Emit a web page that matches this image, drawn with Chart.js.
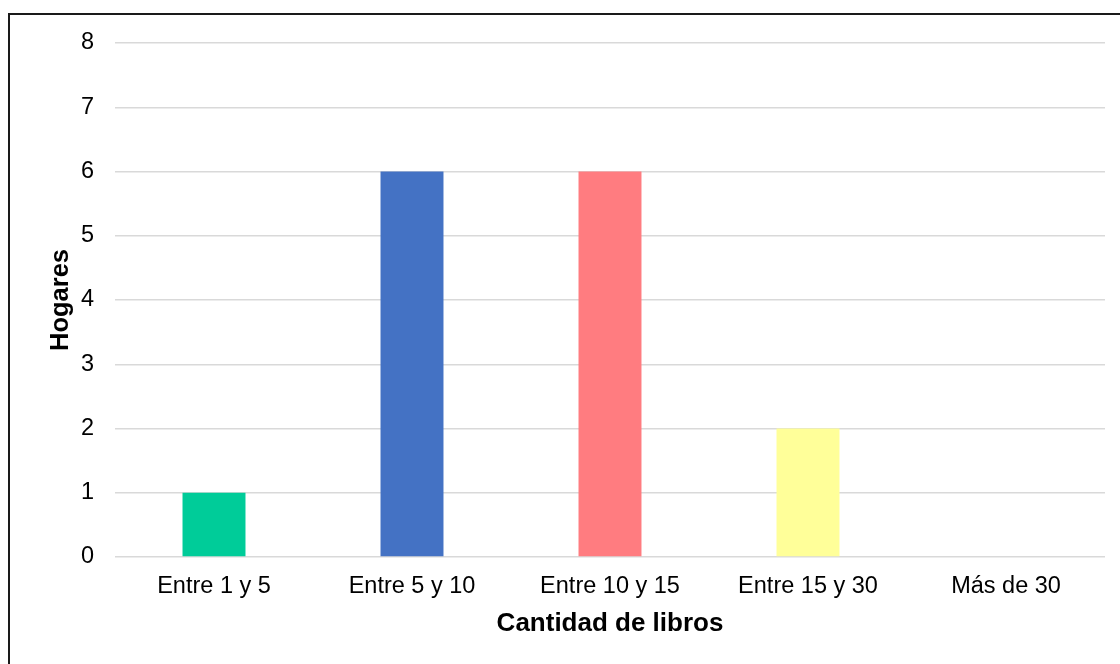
<!DOCTYPE html>
<html>
<head>
<meta charset="utf-8">
<script src="https://cdn.jsdelivr.net/npm/chart.js@4/dist/chart.umd.min.js"></script>
<style>
  html, body { margin: 0; padding: 0; background: #fff; overflow: hidden; }
  #wrap { position: relative; width: 1120px; height: 664px; }
  #frame { position: absolute; left: 8px; top: 13px; width: 1200px; height: 700px;
           border: 2px solid #1a1a1a; box-sizing: border-box; }
  canvas { position: absolute; left: 0; top: 0; }
</style>
</head>
<body>
<div id="wrap">
  <div id="frame"></div>
  <canvas id="chart" width="1120" height="664"></canvas>
</div>
<script>
// Households by number of books at home
const categories = ['Entre 1 y 5', 'Entre 5 y 10', 'Entre 10 y 15', 'Entre 15 y 30', 'Más de 30'];
const hogares = [1, 6, 6, 2, 0];
const yTicks = [0, 1, 2, 3, 4, 5, 6, 7, 8];

const barColors = ['#00CC99', '#4472C4', '#FF7C80', '#FFFF99', '#A5A5A5'];
const FONT = "'Liberation Sans', Arial, sans-serif";

new Chart(document.getElementById('chart'), {
  type: 'bar',
  data: {
    labels: categories,
    datasets: [{
      data: hogares,
      backgroundColor: barColors,
      borderWidth: 0,
      categoryPercentage: 1,
      barPercentage: 0.318
    }]
  },
  options: {
    responsive: false,
    animation: false,
    layout: { padding: { left: 46, right: 15, top: 43, bottom: 25 } },
    plugins: { legend: { display: false }, tooltip: { enabled: false } },
    scales: {
      x: {
        grid: { display: false, drawTicks: false },
        border: { display: false },
        ticks: { color: '#000', font: { family: FONT, size: 23.5 }, padding: 15, maxRotation: 0 },
        title: { display: true, text: 'Cantidad de libros', color: '#000',
                 font: { family: FONT, size: 26, weight: 'bold' }, padding: 0 },
        afterFit: (s) => { s.height = 82; }
      },
      y: {
        min: 0, max: 8,
        afterBuildTicks: (s) => { s.ticks = yTicks.map(v => ({ value: v })); },
        grid: { color: '#d9d9d9', lineWidth: 1.5, drawTicks: false },
        border: { display: false },
        ticks: { color: '#000', font: { family: FONT, size: 23.5 }, padding: 21 },
        title: { display: true, text: 'Hogares', color: '#000',
                 font: { family: FONT, size: 25.5, weight: 'bold' }, padding: 0 },
        afterFit: (s) => { s.width = 69; }
      }
    }
  }
});
</script>
</body>
</html>
